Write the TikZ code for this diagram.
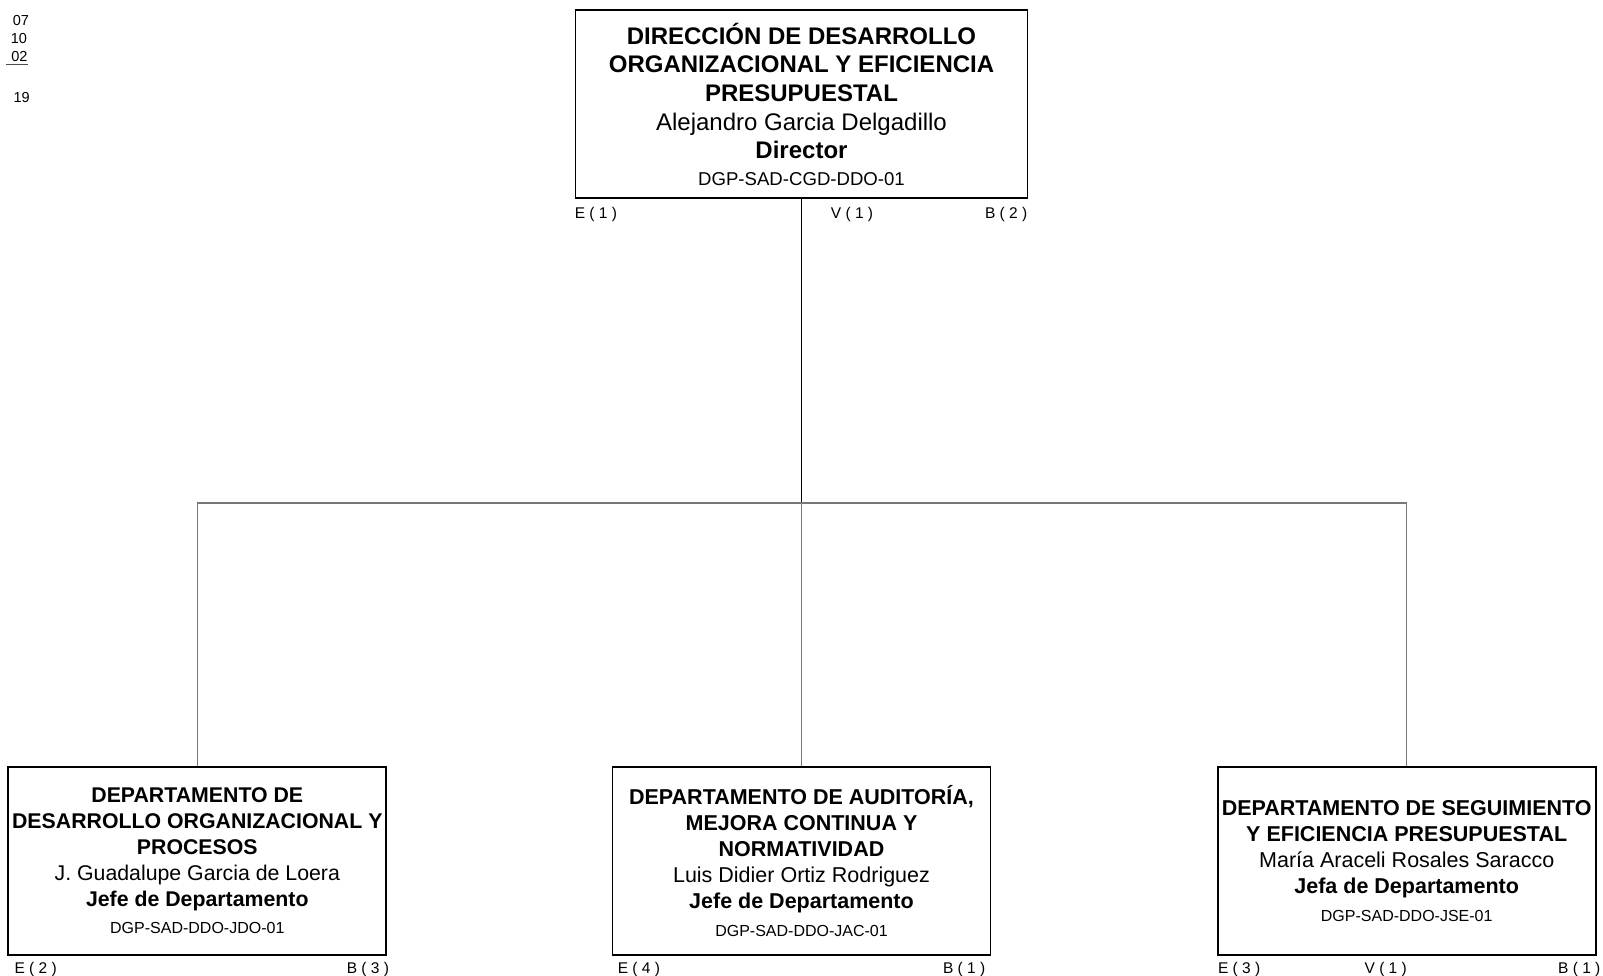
\documentclass[tikz,border=0pt]{standalone}
\usepackage{fontspec}
\setmainfont{Liberation Sans}
\usetikzlibrary{positioning}
\definecolor{linegray}{HTML}{777777}
\tikzset{
  unitbox/.style={draw=black, line width=1.8pt, minimum width=378pt, minimum height=188pt,
    align=center, inner sep=0pt, font=\fontsize{21.5}{26}\selectfont},
  cornerlbl/.style={inner sep=0pt, font=\fontsize{15.5}{17}\selectfont},
  datelbl/.style={inner sep=0pt, anchor=base, font=\fontsize{14.5}{16}\selectfont},
  branch/.style={draw=linegray, line width=1.5pt}
}
\begin{document}
\begin{tikzpicture}[x=1pt,y=-1pt]
\useasboundingbox (0,0) rectangle (1603,976);
% date
\node[datelbl] (dd) at (21,25.4) {07};
\node[datelbl] (mm) at (19,44) {10};
\node[datelbl] (yy) at (19.5,62) {02};
\node[datelbl] (nn) at (21.7,103) {19};
\draw[line width=1pt, black!70] (6,65) -- (28,65);
% director
\node[unitbox, minimum width=452pt, font=\fontsize{24}{28.6}\selectfont] (dir) at (801.5,104.3)
  {\bfseries DIRECCIÓN DE DESARROLLO\\\bfseries ORGANIZACIONAL Y EFICIENCIA\\\bfseries PRESUPUESTAL\\
   {\fontsize{24}{26}\selectfont Alejandro Garcia Delgadillo}\\
   {\fontsize{24}{26}\selectfont\bfseries Director}\\[-2pt]
   {\fontsize{18.6}{20}\selectfont DGP-SAD-CGD-DDO-01}};
% departments
\node[unitbox, font=\fontsize{21.3}{26}\selectfont] (ddo) at (197.3,860.8)
  {\bfseries DEPARTAMENTO DE\\\bfseries DESARROLLO ORGANIZACIONAL Y\\\bfseries PROCESOS\\
   J. Guadalupe Garcia de Loera\\\bfseries Jefe de Departamento\\[1.6pt]
   {\fontsize{16}{18}\selectfont DGP-SAD-DDO-JDO-01}};
\node[unitbox] (dac) at (801.5,860.8)
  {\bfseries DEPARTAMENTO DE AUDITORÍA,\\\bfseries MEJORA CONTINUA Y\\\bfseries NORMATIVIDAD\\
   Luis Didier Ortiz Rodriguez\\\bfseries Jefe de Departamento\\[1.6pt]
   {\fontsize{16}{18}\selectfont DGP-SAD-DDO-JAC-01}};
\node[unitbox] (dse) at (1406.7,860.8)
  {\bfseries DEPARTAMENTO DE SEGUIMIENTO\\\bfseries Y EFICIENCIA PRESUPUESTAL\\
   María Araceli Rosales Saracco\\\bfseries Jefa de Departamento\\[1.6pt]
   {\fontsize{16}{18}\selectfont DGP-SAD-DDO-JSE-01}};
% connectors
\coordinate (hub) at (dir.south |- 0,503);
\draw[line width=1.8pt] (dir.south) -- (hub);
\draw[branch] (ddo.north) |- (hub) -| (dse.north);
\draw[branch] (hub) -- (dac.north);
% corner labels
\node[cornerlbl, anchor=base west] (dirE) at ([yshift=-19pt]dir.south west) {E ( 1 )};
\node[cornerlbl, anchor=base] (dirV) at ([xshift=50.5pt,yshift=-19pt]dir.south) {V ( 1 )};
\node[cornerlbl, anchor=base east] (dirB) at ([xshift=-1pt,yshift=-19pt]dir.south east) {B ( 2 )};
\node[cornerlbl, anchor=base west] (ddoE) at ([xshift=7pt,yshift=-17.5pt]ddo.south west) {E ( 2 )};
\node[cornerlbl, anchor=base east] (ddoB) at ([xshift=2pt,yshift=-17.5pt]ddo.south east) {B ( 3 )};
\node[cornerlbl, anchor=base west] (dacE) at ([xshift=6pt,yshift=-17.5pt]dac.south west) {E ( 4 )};
\node[cornerlbl, anchor=base east] (dacB) at ([xshift=-6pt,yshift=-17.5pt]dac.south east) {B ( 1 )};
\node[cornerlbl, anchor=base west] (dseE) at ([xshift=1pt,yshift=-17.5pt]dse.south west) {E ( 3 )};
\node[cornerlbl, anchor=base] (dseV) at ([xshift=-21pt,yshift=-17.5pt]dse.south) {V ( 1 )};
\node[cornerlbl, anchor=base east] (dseB) at ([xshift=4pt,yshift=-17.5pt]dse.south east) {B ( 1 )};
\end{tikzpicture}
\end{document}
